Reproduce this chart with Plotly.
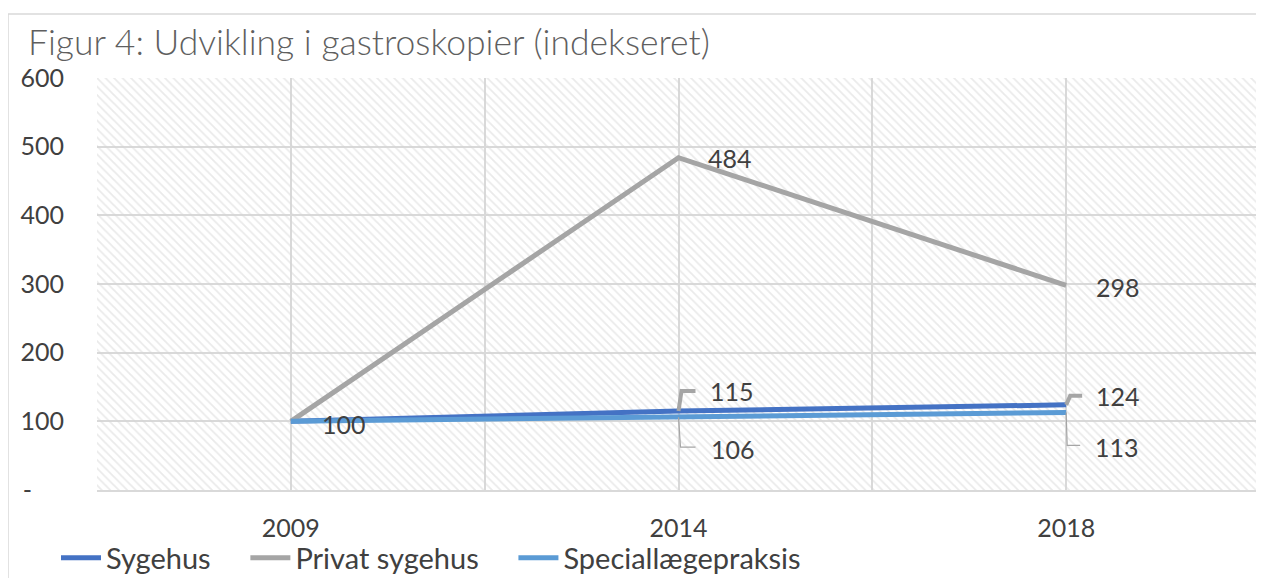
import plotly.graph_objects as go

# Data
years = ["2009", "2014", "2018"]
sygehus = [100, 115, 124]
privat_sygehus = [100, 484, 298]
speciallaege = [100, 106, 113]

y_ticks = [0, 100, 200, 300, 400, 500, 600]
y_ticktext = ["-" + "\u00a0" * 5, "100", "200", "300", "400", "500", "600"]

FONT = "Lato"
TXT = "#404040"
x_idx = list(range(len(years)))
PAD = "\u00a0" * 4  # extra room after legend names, like the Excel legend

# the page body adds an 8px offset, so the figure is 8px smaller than the window
W, H = 1256, 570
M = dict(l=89, r=4, t=70, b=88)
PW = W - M["l"] - M["r"]
PH = H - M["t"] - M["b"]
px_x = PW / 3.0       # pixels per category
px_y = PH / 600.0     # pixels per index point

fig = go.Figure()

# hatched plot background (Excel pattern fill)
fig.add_trace(go.Scatter(
    x=[-0.5, 2.5, 2.5, -0.5, -0.5], y=[0, 0, 600, 600, 0],
    mode="lines", line=dict(width=0), fill="toself", fillcolor="rgba(0,0,0,0)",
    fillpattern=dict(shape="\\", fgcolor="#d6d6d6", bgcolor="rgba(0,0,0,0)", size=6, solidity=0.3),
    hoverinfo="skip", showlegend=False,
))

series = [
    ("Sygehus", sygehus, "#4472C4"),
    ("Privat sygehus", privat_sygehus, "#A5A5A5"),
    ("Speciallægepraksis", speciallaege, "#5B9BD5"),
]
for name, vals, col in series:
    fig.add_trace(go.Scatter(
        x=x_idx, y=vals, name=name + PAD, mode="lines",
        line=dict(color=col, width=5),
    ))

# leader lines (pixel offsets of the elbow and the end)
def leader(i, v, dx1, dy, dx2, width):
    xs = [i, i + dx1 / px_x, i + dx2 / px_x]
    ys = [v, v + dy / px_y, v + dy / px_y]
    fig.add_trace(go.Scatter(
        x=xs, y=ys, mode="lines", line=dict(color="#A5A5A5", width=width),
        hoverinfo="skip", showlegend=False,
    ))

leader(1, sygehus[1], 3, 20, 17, 4)
leader(2, sygehus[2], 4, 9, 16, 4)
leader(1, speciallaege[1], 2, -30, 17, 1.2)
leader(2, speciallaege[2], 1, -33, 14, 1.2)

# data labels
labels = [
    (0, sygehus[0], 29, -3),
    (1, privat_sygehus[1], 27, 0),
    (2, privat_sygehus[2], 28, -2),
    (1, sygehus[1], 29, 20),
    (2, sygehus[2], 28, 9),
    (1, speciallaege[1], 30, -32),
    (2, speciallaege[2], 27, -35),
]
for i, v, xs, ys in labels:
    fig.add_annotation(
        x=i, y=v, text=str(v), showarrow=False, xanchor="left", yanchor="middle",
        xshift=xs, yshift=ys, font=dict(family=FONT, size=25, color=TXT),
    )

# outer chart border
fig.add_shape(
    type="rect", xref="paper", yref="paper",
    x0=(0 - M["l"]) / PW, x1=1.02,
    y0=-0.3, y1=1 + (M["t"] - 6) / PH,
    line=dict(color="#d9d9d9", width=1.5), fillcolor="rgba(0,0,0,0)", layer="below",
)

fig.update_layout(
    width=W, height=H, margin=M,
    paper_bgcolor="white", plot_bgcolor="white",
    title=dict(
        text="Figur 4: Udvikling i gastroskopier (indekseret)",
        x=20 / W, xanchor="left", y=1 - 35 / H, yanchor="middle",
        font=dict(family=FONT, size=35.5, color="#5f5f5f", weight=300),
    ),
    legend=dict(
        orientation="h", xref="container", yref="container",
        x=48 / W, xanchor="left", y=1 - 550 / H, yanchor="middle",
        font=dict(family=FONT, size=29, color=TXT), itemwidth=40,
        bgcolor="rgba(0,0,0,0)", tracegroupgap=0,
    ),
    showlegend=True,
)

fig.update_xaxes(
    range=[-0.5, 2.5],
    tickvals=[-0.5, 0, 0.5, 1, 1.5, 2, 2.5],
    ticktext=["", years[0], "", years[1], "", years[2], ""],
    showgrid=True, gridcolor="#d9d9d9", gridwidth=1.5,
    zeroline=False, showline=True, linecolor="#d9d9d9", linewidth=1.5,
    ticks="", ticklabelstandoff=15, automargin=False,
    tickfont=dict(family=FONT, size=25, color=TXT),
)
fig.update_yaxes(
    range=[0, 600], tickvals=y_ticks, ticktext=y_ticktext,
    showgrid=True, gridcolor="#d9d9d9", gridwidth=1.5,
    zeroline=False, showline=False, ticks="", ticklabelstandoff=32, automargin=False,
    tickfont=dict(family=FONT, size=25, color=TXT),
)

fig.write_html("out.html")
